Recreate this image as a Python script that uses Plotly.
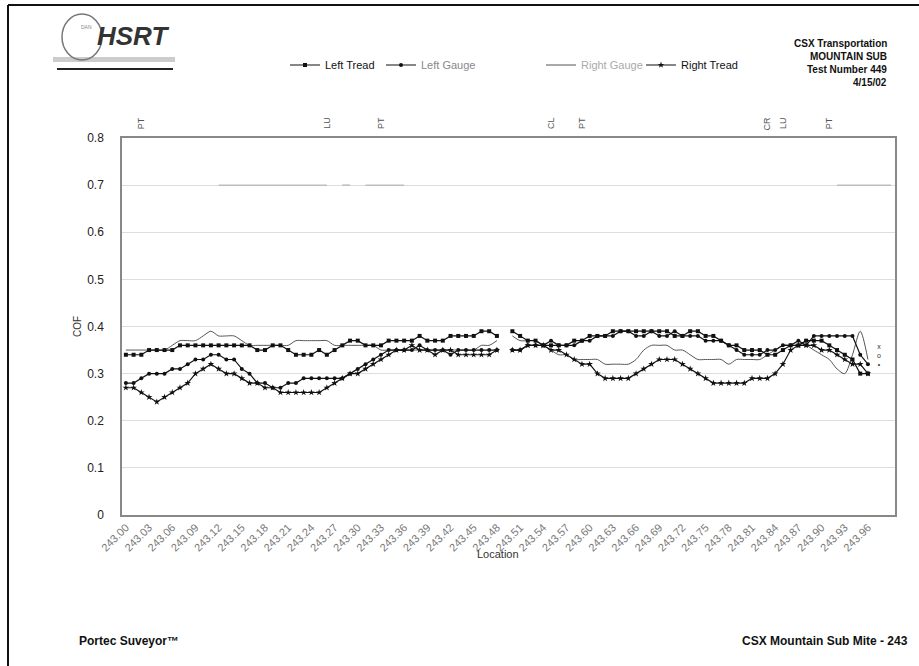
import plotly.graph_objects as go

# ---------------- data ----------------
locations = [
    "243.00","243.01","243.02","243.03","243.04","243.05","243.06","243.07","243.08","243.09",
    "243.10","243.11","243.12","243.13","243.14","243.15","243.16","243.17","243.18","243.19",
    "243.20","243.21","243.22","243.23","243.24","243.25","243.26","243.27","243.28","243.29",
    "243.30","243.31","243.32","243.33","243.34","243.35","243.36","243.37","243.38","243.39",
    "243.40","243.41","243.42","243.43","243.44","243.45","243.46","243.47","243.48","243.49",
    "243.50","243.51","243.52","243.53","243.54","243.55","243.56","243.57","243.58","243.59",
    "243.60","243.61","243.62","243.63","243.64","243.65","243.66","243.67","243.68","243.69",
    "243.70","243.71","243.72","243.73","243.74","243.75","243.76","243.77","243.78","243.79",
    "243.80","243.81","243.82","243.83","243.84","243.85","243.86","243.87","243.88","243.89",
    "243.90","243.91","243.92","243.93","243.94","243.95","243.96","243.97","243.98","243.99",
]

left_tread = [
    .34,.34,.34,.35,.35,.35,.35,.36,.36,.36,
    .36,.36,.36,.36,.36,.36,.36,.35,.35,.36,
    .36,.35,.34,.34,.34,.35,.34,.35,.36,.37,
    .37,.36,.36,.36,.37,.37,.37,.37,.38,.37,
    .37,.37,.38,.38,.38,.38,.39,.39,.38,None,
    .39,.38,.37,.37,.36,.36,.36,.36,.37,.37,
    .38,.38,.38,.39,.39,.39,.39,.39,.39,.39,
    .39,.38,.38,.39,.39,.38,.38,.37,.36,.36,
    .35,.35,.35,.34,.34,.35,.36,.36,.37,.37,
    .37,.36,.35,.34,.33,.30,.30,None,None,None,
]

left_gauge = [
    .28,.28,.29,.30,.30,.30,.31,.31,.32,.33,
    .33,.34,.34,.33,.33,.31,.30,.28,.28,.27,
    .27,.28,.28,.29,.29,.29,.29,.29,.29,.30,
    .31,.32,.33,.34,.35,.35,.35,.35,.36,.35,
    .35,.35,.34,.35,.35,.35,.35,.35,.35,None,
    .35,.35,.36,.36,.36,.37,.36,.36,.36,.37,
    .37,.38,.38,.38,.39,.39,.38,.38,.39,.38,
    .38,.39,.38,.38,.38,.37,.37,.37,.36,.35,
    .34,.34,.34,.35,.35,.36,.36,.37,.36,.38,
    .38,.38,.38,.38,.38,.34,.32,None,None,None,
]

right_gauge = [
    .35,.35,.35,.35,.35,.35,.36,.37,.37,.37,
    .38,.39,.38,.38,.38,.37,.36,.36,.36,.36,
    .36,.36,.37,.37,.37,.37,.37,.36,.36,.36,
    .36,.36,.36,.35,.35,.35,.35,.35,.35,.35,
    .35,.35,.35,.35,.35,.35,.36,.36,.37,None,
    .38,.37,.37,.37,.36,.35,.34,.34,.33,.33,
    .33,.33,.32,.32,.32,.32,.33,.35,.36,.36,
    .36,.35,.35,.34,.33,.33,.33,.33,.32,.33,
    .33,.33,.33,.34,.35,.36,.36,.36,.36,.35,
    .34,.33,.31,.30,.34,.39,.33,None,None,None,
]

right_tread = [
    .27,.27,.26,.25,.24,.25,.26,.27,.28,.30,
    .31,.32,.31,.30,.30,.29,.28,.28,.27,.27,
    .26,.26,.26,.26,.26,.26,.27,.28,.29,.30,
    .30,.31,.32,.33,.34,.35,.35,.36,.35,.35,
    .34,.35,.35,.34,.34,.34,.34,.34,.35,None,
    .35,.35,.36,.36,.36,.35,.35,.34,.33,.32,
    .32,.30,.29,.29,.29,.29,.30,.31,.32,.33,
    .33,.33,.32,.31,.30,.29,.28,.28,.28,.28,
    .28,.29,.29,.29,.30,.32,.35,.36,.36,.36,
    .35,.35,.34,.33,.32,.32,.30,None,None,None,
]

# faint line at 0.7 (out-of-range readings)
upper_readings = [
    None,None,None,None,None,None,None,None,None,None,
    None,None,.70,.70,.70,.70,.70,.70,.70,.70,
    .70,.70,.70,.70,.70,.70,.70,None,.70,.70,
    None,.70,.70,.70,.70,.70,.70,None,None,None,
    None,None,None,None,None,None,None,None,None,None,
    None,None,None,None,None,None,None,None,None,None,
    None,None,None,None,None,None,None,None,None,None,
    None,None,None,None,None,None,None,None,None,None,
    None,None,None,None,None,None,None,None,None,None,
    None,None,.70,.70,.70,.70,.70,.70,.70,.70,
]

tick_locations = locations[0:99:3]
y_ticks = [0, 0.1, 0.2, 0.3, 0.4, 0.5, 0.6, 0.7, 0.8]
y_ticktext = ["0", "0.1", "0.2", "0.3", "0.4", "0.5", "0.6", "0.7", "0.8"]

curve_labels = ["PT", "LU", "PT", "CL", "PT", "CR", "LU", "PT"]
curve_locs = ["243.02", "243.26", "243.33", "243.55", "243.59", "243.83", "243.85", "243.91"]

header_lines = ["CSX Transportation", "MOUNTAIN SUB", "Test Number 449", "4/15/02"]

# ---------------- layout helpers ----------------
L, R, T, B = 122, 895, 138, 515
W, H = R - L, B - T
def px(x):
    return (x - L) / W
def py(y):
    return (B - y) / H

FONT = "Liberation Sans, Arial, sans-serif"

fig = go.Figure()

fig.add_trace(go.Scatter(
    x=locations, y=upper_readings, mode="lines", name="upper",
    line=dict(color="#bdbdbd", width=1.5), showlegend=False, hoverinfo="skip"))

fig.add_trace(go.Scatter(
    x=locations, y=right_gauge, mode="lines", name="Right Gauge",
    line=dict(color="#555555", width=1, shape="spline", smoothing=0.8),
    legend="legend3"))

fig.add_trace(go.Scatter(
    x=locations, y=left_tread, mode="lines+markers", name="Left Tread",
    line=dict(color="#111111", width=1.2),
    marker=dict(symbol="square", size=4, color="#111111"),
    legend="legend"))

fig.add_trace(go.Scatter(
    x=locations, y=left_gauge, mode="lines+markers", name="Left Gauge",
    line=dict(color="#111111", width=1.2),
    marker=dict(symbol="circle", size=4, color="#111111"),
    legend="legend2"))

fig.add_trace(go.Scatter(
    x=locations, y=right_tread, mode="lines+markers", name="Right Tread",
    line=dict(color="#111111", width=1.2),
    marker=dict(symbol="star", size=5, color="#111111"),
    legend="legend4"))

def leg(xtext, color):
    return dict(x=px(xtext - 42), y=py(65), xanchor="left", yanchor="middle",
                orientation="h", bgcolor="rgba(0,0,0,0)", borderwidth=0,
                font=dict(family=FONT, size=11, color=color), itemwidth=30)

annotations = []
# curve labels (rotated), placed at their category index
for lab, loc in zip(curve_labels, curve_locs):
    annotations.append(dict(x=locations.index(loc), xref="x", y=py(123), yref="paper", text=lab,
                            textangle=-90, showarrow=False, yanchor="middle",
                            font=dict(family=FONT, size=9, color="#555")))
# header lines
for k, line in enumerate(header_lines):
    annotations.append(dict(x=px(889), y=py(43 + 13.3 * k), xref="paper", yref="paper",
                            xanchor="right", yanchor="middle", showarrow=False,
                            text="<b>" + line + "</b>",
                            font=dict(family=FONT, size=10, color="#111")))
# logo text
annotations.append(dict(x=px(133), y=py(36), xref="paper", yref="paper", showarrow=False,
                        xanchor="center", yanchor="middle", text="<b><i>HSRT</i></b>",
                        font=dict(family=FONT, size=26, color="#333")))
annotations.append(dict(x=px(79), y=py(22), xref="paper", yref="paper", showarrow=False,
                        text="DAN", font=dict(family=FONT, size=5, color="#888")))
# axis title for x
annotations.append(dict(x=px(498), y=py(554), xref="paper", yref="paper", showarrow=False,
                        xanchor="center", yanchor="middle", text="Location",
                        font=dict(family=FONT, size=11, color="#333")))
# footer
annotations.append(dict(x=px(77), y=py(641), xref="paper", yref="paper", showarrow=False,
                        xanchor="left", yanchor="middle", text="<b>Portec Suveyor™</b>",
                        font=dict(family=FONT, size=12, color="#111")))
annotations.append(dict(x=px(910), y=py(641), xref="paper", yref="paper", showarrow=False,
                        xanchor="right", yanchor="middle", text="<b>CSX Mountain Sub Mite - 243</b>",
                        font=dict(family=FONT, size=12, color="#111")))
# stray symbols at right
annotations.append(dict(x=px(883), y=py(355), xref="paper", yref="paper", showarrow=False,
                        text="x<br>o<br>•", font=dict(family=FONT, size=7, color="#333")))

shapes = [
    # page frame
    dict(type="line", xref="paper", yref="paper", x0=px(8), x1=px(8), y0=py(5), y1=py(666),
         line=dict(color="#111", width=2)),
    dict(type="line", xref="paper", yref="paper", x0=px(8), x1=px(919), y0=py(5), y1=py(5),
         line=dict(color="#111", width=2)),
    # logo
    dict(type="rect", xref="paper", yref="paper", x0=px(53), x1=px(175), y0=py(62), y1=py(57),
         fillcolor="#cccccc", line=dict(width=0)),
    dict(type="line", xref="paper", yref="paper", x0=px(57), x1=px(173), y0=py(69), y1=py(69),
         line=dict(color="#222", width=2)),
    dict(type="circle", xref="paper", yref="paper", x0=px(62), x1=px(102), y0=py(60), y1=py(14),
         line=dict(color="#777", width=1.5)),
]

fig.update_layout(
    width=919, height=666, autosize=False,
    margin=dict(l=L, r=919 - R, t=T, b=666 - B),
    paper_bgcolor="white", plot_bgcolor="white",
    font=dict(family=FONT, color="#222"),
    legend=leg(327, "#111"),
    legend2=leg(423, "#888"),
    legend3=leg(583, "#aaa"),
    legend4=leg(683, "#111"),
    annotations=annotations,
    shapes=shapes,
    xaxis=dict(
        type="category", range=[-0.5, 99.5],
        tickmode="array", tickvals=tick_locations, ticktext=tick_locations,
        tickangle=-45, tickfont=dict(family=FONT, size=11, color="#777"),
        showgrid=False, showline=True, linecolor="#888", linewidth=1.5, mirror=True,
        ticks="", zeroline=False,
    ),
    yaxis=dict(
        range=[0, 0.8], tickmode="array", tickvals=y_ticks, ticktext=y_ticktext,
        tickfont=dict(family=FONT, size=12, color="#222"),
        showgrid=True, gridcolor="#dddddd", gridwidth=1,
        showline=True, linecolor="#888", linewidth=1.5, mirror=True,
        zeroline=False, ticks="", ticklabelstandoff=14,
        title=dict(text="COF", font=dict(family=FONT, size=10, color="#333"), standoff=4),
    ),
)

fig.write_html("out.html", config={"displayModeBar": False},
               post_script="document.body.style.margin='0px';")
